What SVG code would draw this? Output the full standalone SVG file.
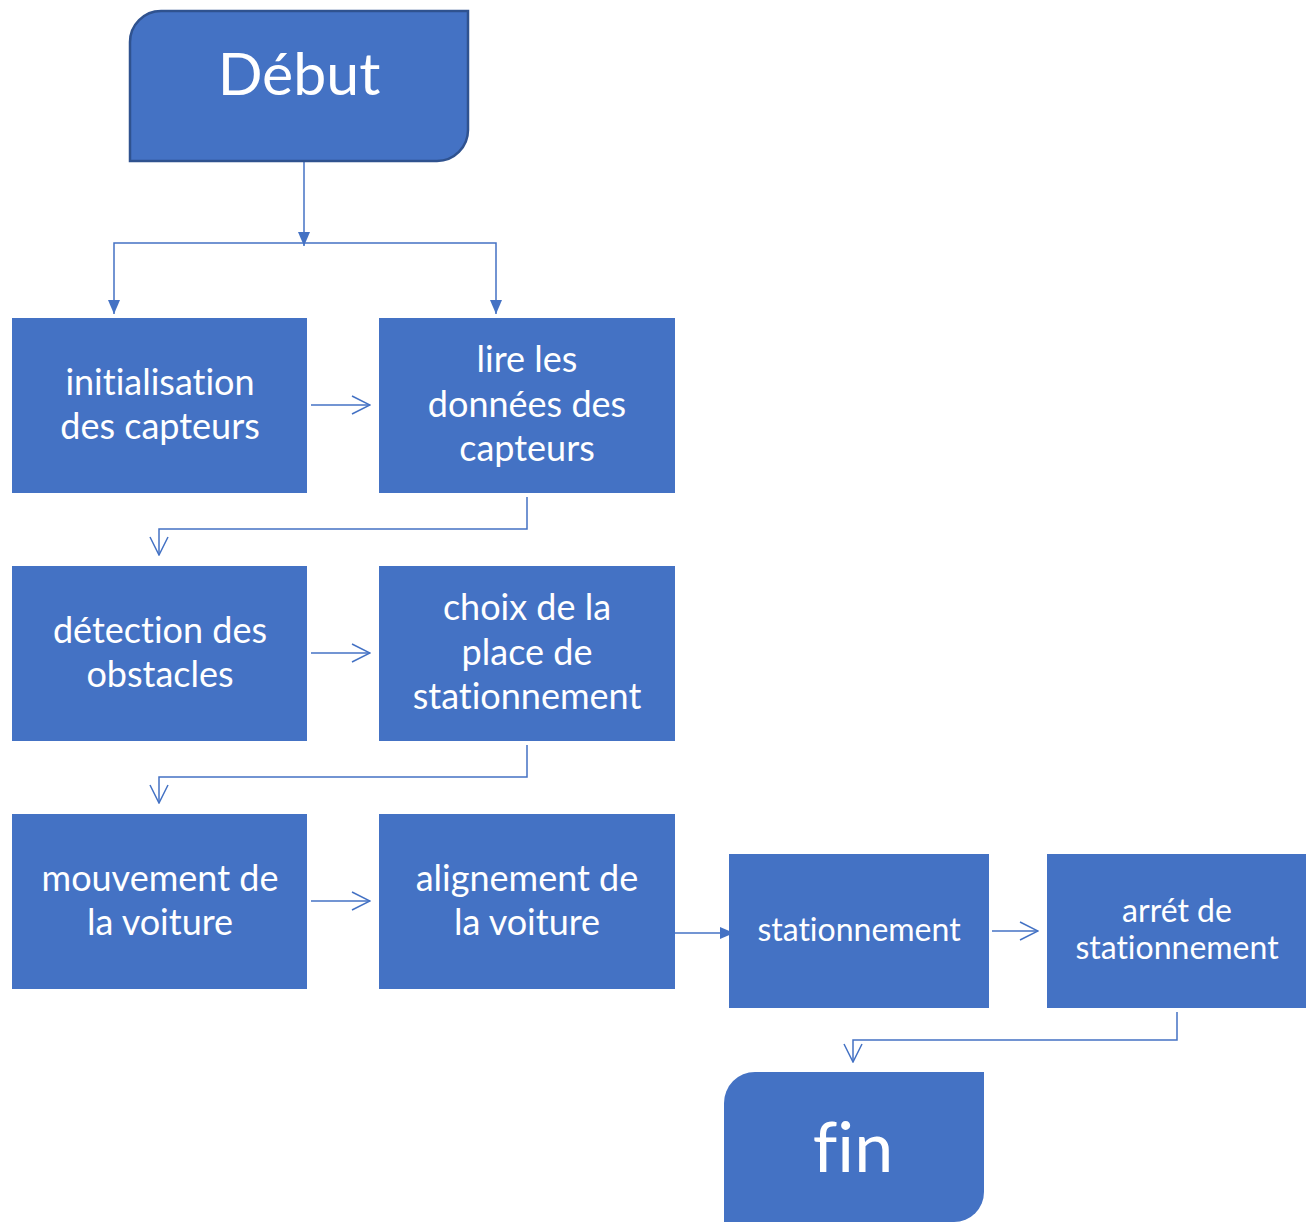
<svg xmlns="http://www.w3.org/2000/svg" width="1313" height="1222" viewBox="0 0 1313 1222">
<style>
.box{fill:#4472C4;}
.t{font-family:Lato,"Liberation Sans",sans-serif;fill:#fff;text-anchor:middle;font-size:36px;font-variant-ligatures:none;font-feature-settings:"liga" 0;}
.s{font-size:32px;}
.c{fill:none;stroke:#4472C4;stroke-width:1.5;}
</style>
<defs>
<marker id="fb" viewBox="0 0 14 12" refX="14" refY="6" markerWidth="14" markerHeight="12" markerUnits="userSpaceOnUse" orient="auto"><path d="M0,0 L14,6 L0,12 z" fill="#4472C4"/></marker>
<marker id="oa" viewBox="0 0 20 20" refX="19" refY="10" markerWidth="20" markerHeight="20" markerUnits="userSpaceOnUse" orient="auto"><path d="M1,1 L19,10 L1,19" fill="none" stroke="#4472C4" stroke-width="1.5"/></marker>
</defs>
<rect width="1313" height="1222" fill="#fff"/>
<g id="connectors">
<path class="c" d="M304,161 V246" marker-end="url(#fb)"/>
<path class="c" d="M304,243 H114 V314" marker-end="url(#fb)"/>
<path class="c" d="M304,243 H496 V314" marker-end="url(#fb)"/>
<path class="c" d="M311,405 H370" marker-end="url(#oa)"/>
<path class="c" d="M527,497 V529 H159 V555" marker-end="url(#oa)"/>
<path class="c" d="M311,653 H370" marker-end="url(#oa)"/>
<path class="c" d="M527,745 V777 H159 V803" marker-end="url(#oa)"/>
<path class="c" d="M311,901 H370" marker-end="url(#oa)"/>
<path class="c" d="M675,933 H734" marker-end="url(#fb)"/>
<path class="c" d="M992,931 H1038" marker-end="url(#oa)"/>
<path class="c" d="M1177,1012 V1040 H853 V1062" marker-end="url(#oa)"/>
</g>
<g id="debut">
<path d="M161,11 H468 V130 A31,31 0 0 1 437,161 H130 V42 A31,31 0 0 1 161,11 Z" fill="#4472C4" stroke="#2F528F" stroke-width="2.5"/>
<text class="t" x="299" y="95" style="font-size:59px">Début</text>
</g>
<g id="init"><rect class="box" x="12" y="318" width="295" height="175"/><text class="t" x="160" y="395">initialisation</text><text class="t" x="160" y="439">des capteurs</text></g>
<g id="lire"><rect class="box" x="379" y="318" width="296" height="175"/><text class="t" x="527" y="372">lire les</text><text class="t" x="527" y="417">données des</text><text class="t" x="527" y="461">capteurs</text></g>
<g id="detection"><rect class="box" x="12" y="566" width="295" height="175"/><text class="t" x="160" y="643">détection des</text><text class="t" x="160" y="687">obstacles</text></g>
<g id="choix"><rect class="box" x="379" y="566" width="296" height="175"/><text class="t" x="527" y="620">choix de la</text><text class="t" x="527" y="665">place de</text><text class="t" x="527" y="709">stationnement</text></g>
<g id="mouvement"><rect class="box" x="12" y="814" width="295" height="175"/><text class="t" x="160" y="891">mouvement de</text><text class="t" x="160" y="935">la voiture</text></g>
<g id="alignement"><rect class="box" x="379" y="814" width="296" height="175"/><text class="t" x="527" y="891">alignement de</text><text class="t" x="527" y="935">la voiture</text></g>
<g id="stationnement"><rect class="box" x="729" y="854" width="260" height="154"/><text class="t s" x="859" y="941">stationnement</text></g>
<g id="arret"><rect class="box" x="1047" y="854" width="259" height="154"/><text class="t s" x="1177" y="922">arrét de</text><text class="t s" x="1177" y="959">stationnement</text></g>
<g id="fin">
<path d="M755,1072 H984 V1192 A30,30 0 0 1 954,1222 H724 V1103 A31,31 0 0 1 755,1072 Z" fill="#4472C4"/>
<text class="t" x="853" y="1172" style="font-size:70px">fin</text>
</g>
</svg>
